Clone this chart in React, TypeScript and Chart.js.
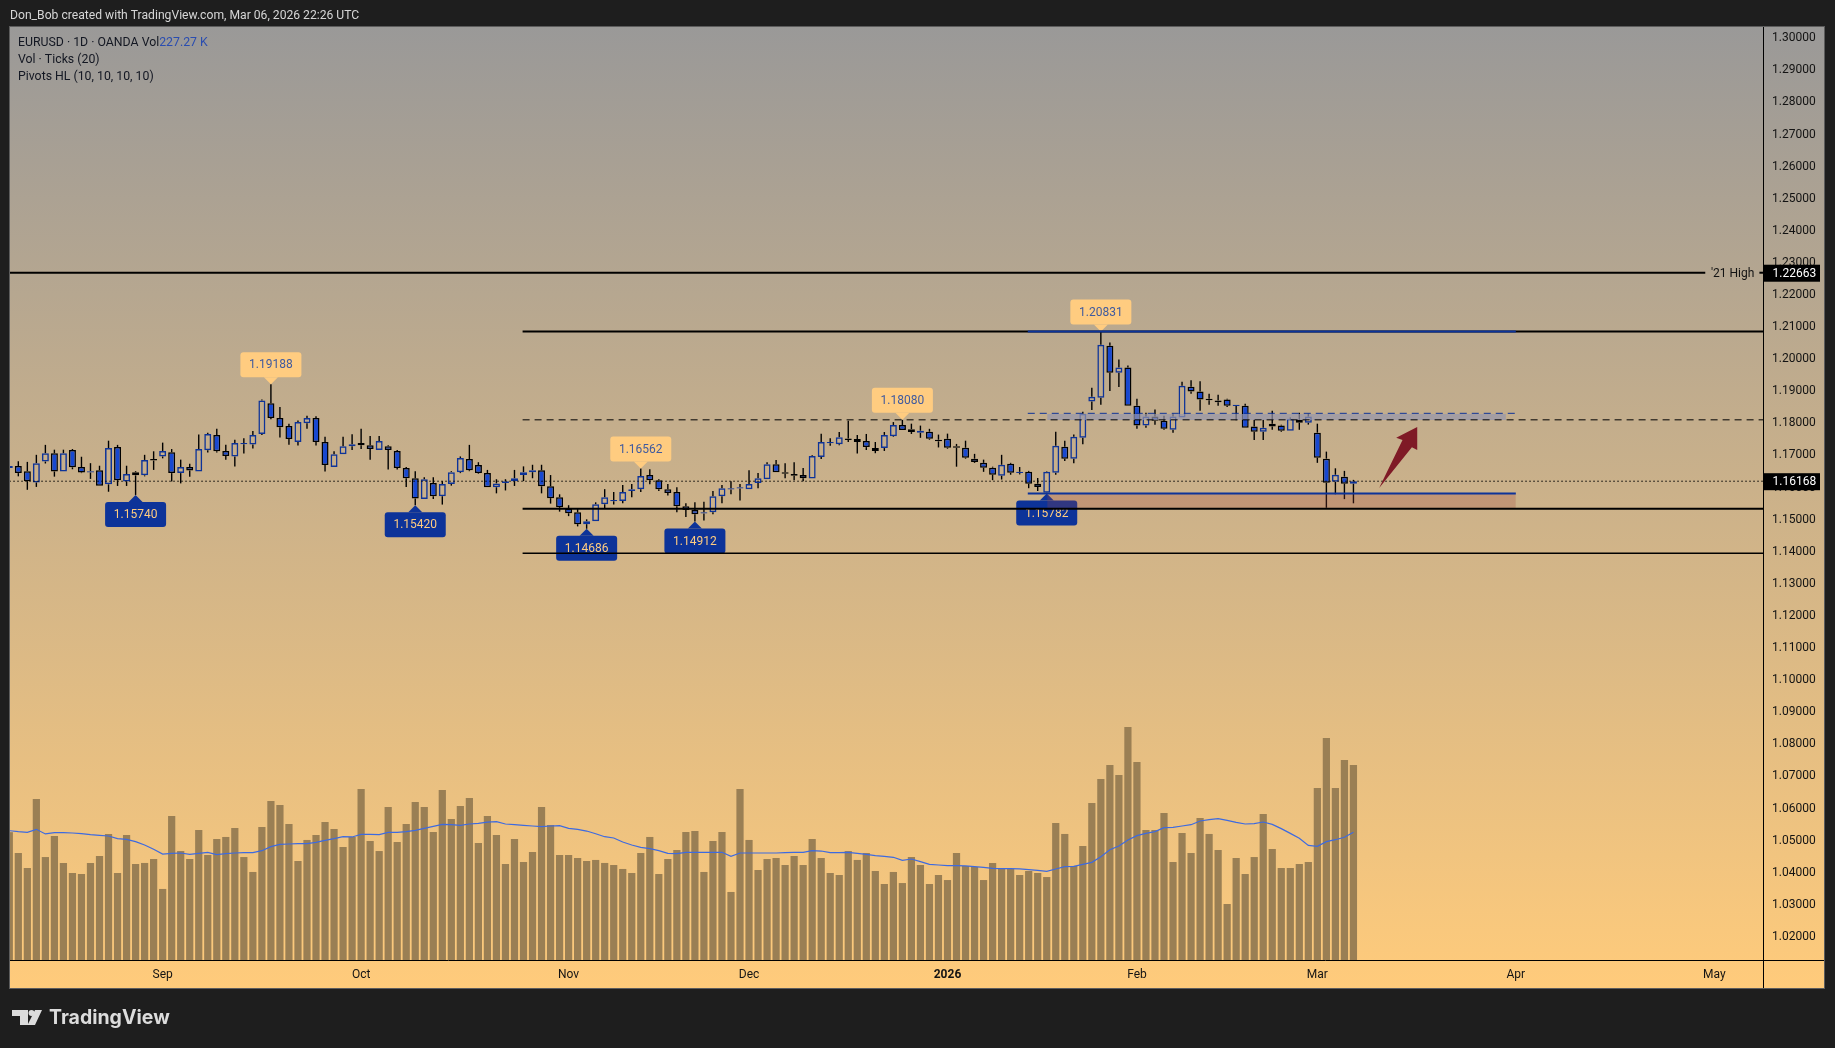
import { useEffect, useRef } from 'react'
import { Chart, registerables } from 'chart.js'

Chart.register(...registerables)

const FONT = 'Roboto, "Noto Sans", sans-serif'

const opens = [
  1.1658, 1.1664, 1.1648, 1.1613, 1.1678, 1.1704, 1.1647, 1.1714, 1.1661, 1.1644,
  1.1651, 1.1607, 1.1723, 1.1616, 1.1645, 1.1635, 1.1686, 1.1694, 1.1707, 1.1642,
  1.1661, 1.1647, 1.1713, 1.1761, 1.1711, 1.1694, 1.1732, 1.1731, 1.1764, 1.186,
  1.1814, 1.1789, 1.1739, 1.1797, 1.1814, 1.1739, 1.1661, 1.1701, 1.1726, 1.1736,
  1.1729, 1.1714, 1.1726, 1.1711, 1.1658, 1.1626, 1.1561, 1.1611, 1.157, 1.1608,
  1.1645, 1.1686, 1.1667, 1.1642, 1.1598, 1.1611, 1.1617, 1.1636, 1.1645, 1.1651,
  1.1601, 1.1567, 1.1532, 1.152, 1.1483, 1.1492, 1.1545, 1.1554, 1.1555, 1.1586,
  1.1592, 1.1636, 1.162, 1.1592, 1.1583, 1.1539, 1.1527, 1.1516, 1.152, 1.157,
  1.1591, 1.1594, 1.1592, 1.1611, 1.1623, 1.167, 1.1645, 1.1639, 1.1636, 1.1625,
  1.1692, 1.1735, 1.1732, 1.175, 1.1748, 1.1742, 1.172, 1.172, 1.1757, 1.1792,
  1.1779, 1.1768, 1.1771, 1.1746, 1.1749, 1.1726, 1.1721, 1.1687, 1.1674, 1.1659,
  1.1634, 1.1671, 1.1642, 1.1646, 1.1609, 1.1581, 1.1643, 1.1724, 1.1687, 1.1752,
  1.1865, 1.1877, 1.2039, 1.1955, 1.1971, 1.1852, 1.179, 1.1818, 1.1805, 1.1777,
  1.1815, 1.1911, 1.1896, 1.1874, 1.1868, 1.1871, 1.1851, 1.1852, 1.1787, 1.1771,
  1.1796, 1.179, 1.1774, 1.1808, 1.1799, 1.1768, 1.1687, 1.1615, 1.1631, 1.1609,
]
const closes = [
  1.1664, 1.1642, 1.1617, 1.1673, 1.1704, 1.1647, 1.1704, 1.166, 1.1644, 1.1648,
  1.1603, 1.172, 1.162, 1.1639, 1.1635, 1.1683, 1.1681, 1.1711, 1.1642, 1.1661,
  1.165, 1.1717, 1.1764, 1.171, 1.1695, 1.1736, 1.1736, 1.1761, 1.1868, 1.1814,
  1.1785, 1.1748, 1.1801, 1.1814, 1.1739, 1.1667, 1.1701, 1.1726, 1.1732, 1.1729,
  1.1717, 1.1742, 1.1714, 1.1658, 1.1626, 1.1563, 1.1623, 1.157, 1.1608, 1.1645,
  1.1689, 1.1651, 1.1642, 1.1598, 1.161, 1.1617, 1.1626, 1.1645, 1.1651, 1.1601,
  1.1564, 1.1536, 1.1517, 1.1483, 1.1492, 1.1545, 1.1567, 1.1558, 1.1583, 1.1592,
  1.1633, 1.162, 1.1592, 1.158, 1.1539, 1.1527, 1.1514, 1.152, 1.157, 1.1595,
  1.1595, 1.1598, 1.1608, 1.1626, 1.167, 1.1645, 1.164, 1.1634, 1.1626, 1.1695,
  1.1739, 1.1739, 1.1754, 1.1745, 1.1739, 1.1723, 1.1711, 1.1761, 1.1792, 1.1776,
  1.177, 1.1774, 1.1749, 1.1741, 1.1721, 1.1721, 1.169, 1.1677, 1.1659, 1.1637,
  1.1668, 1.1643, 1.1646, 1.1609, 1.1599, 1.1646, 1.1727, 1.1687, 1.1755, 1.1827,
  1.188, 1.2042, 1.1955, 1.1971, 1.1852, 1.179, 1.1818, 1.1805, 1.178, 1.1818,
  1.1914, 1.1896, 1.1871, 1.1869, 1.1863, 1.1852, 1.1855, 1.1783, 1.1771, 1.1783,
  1.1787, 1.1774, 1.1811, 1.1799, 1.1818, 1.169, 1.1612, 1.1637, 1.1609, 1.1617,
]
const highs = [
  1.1668, 1.1679, 1.1677, 1.1699, 1.173, 1.1715, 1.1715, 1.1717, 1.1693, 1.1673,
  1.1665, 1.1743, 1.173, 1.1665, 1.1648, 1.1699, 1.171, 1.1737, 1.1717, 1.1684,
  1.1671, 1.1762, 1.1768, 1.178, 1.173, 1.1746, 1.1751, 1.1773, 1.1871, 1.19188,
  1.1848, 1.1796, 1.1806, 1.1821, 1.1819, 1.1755, 1.171, 1.1755, 1.1763, 1.178,
  1.1758, 1.1758, 1.1729, 1.1714, 1.1661, 1.1648, 1.1629, 1.1629, 1.1617, 1.1648,
  1.1694, 1.173, 1.1676, 1.1652, 1.1623, 1.1623, 1.1652, 1.1663, 1.1668, 1.1668,
  1.1636, 1.1576, 1.1542, 1.153, 1.1498, 1.1551, 1.1592, 1.1583, 1.1605, 1.1608,
  1.16562, 1.1654, 1.1623, 1.1608, 1.1598, 1.1548, 1.1551, 1.1553, 1.1586, 1.1605,
  1.1617, 1.1608, 1.1651, 1.1642, 1.1676, 1.1683, 1.1673, 1.1676, 1.1658, 1.1698,
  1.1765, 1.1751, 1.177, 1.1805, 1.1761, 1.1764, 1.1739, 1.177, 1.1801, 1.1808,
  1.1796, 1.179, 1.178, 1.1762, 1.1765, 1.1733, 1.1743, 1.1702, 1.1684, 1.1662,
  1.1699, 1.1674, 1.1661, 1.1649, 1.1627, 1.1648, 1.1771, 1.1743, 1.1762, 1.1833,
  1.1908, 1.20831, 1.2049, 1.1996, 1.1977, 1.1874, 1.183, 1.184, 1.1821, 1.1827,
  1.1927, 1.1931, 1.1928, 1.1889, 1.1886, 1.1874, 1.1855, 1.1858, 1.1808, 1.1808,
  1.1836, 1.1793, 1.1815, 1.183, 1.1827, 1.1796, 1.1709, 1.1657, 1.1649, 1.1621,
]
const lows = [
  1.1652, 1.1632, 1.159, 1.1599, 1.1672, 1.1631, 1.1647, 1.1654, 1.1642, 1.1624,
  1.1603, 1.1584, 1.1602, 1.1602, 1.1574, 1.1632, 1.1652, 1.1688, 1.1616, 1.161,
  1.1631, 1.1647, 1.1706, 1.1706, 1.1684, 1.1663, 1.1703, 1.1719, 1.1761, 1.181,
  1.1753, 1.173, 1.1728, 1.178, 1.1728, 1.1647, 1.1661, 1.1701, 1.1714, 1.1717,
  1.1684, 1.1714, 1.1653, 1.1653, 1.1599, 1.1542, 1.1561, 1.1561, 1.1544, 1.1603,
  1.1642, 1.1648, 1.164, 1.1598, 1.1579, 1.1588, 1.1602, 1.1617, 1.1626, 1.1579,
  1.1547, 1.1522, 1.1508, 1.1476, 1.14686, 1.1492, 1.1533, 1.1544, 1.1548, 1.1567,
  1.1583, 1.1607, 1.1586, 1.1572, 1.152, 1.1505, 1.14912, 1.1494, 1.1514, 1.1548,
  1.1576, 1.1557, 1.1592, 1.1595, 1.1623, 1.1645, 1.1626, 1.162, 1.1617, 1.1625,
  1.1686, 1.1727, 1.1729, 1.1739, 1.1703, 1.1714, 1.1704, 1.1711, 1.1755, 1.1776,
  1.1764, 1.1752, 1.1746, 1.1722, 1.1718, 1.1662, 1.1687, 1.1674, 1.1646, 1.162,
  1.1622, 1.1637, 1.1638, 1.1595, 1.1586, 1.15782, 1.1637, 1.168, 1.1673, 1.1732,
  1.1839, 1.1855, 1.1898, 1.191, 1.1852, 1.178, 1.1783, 1.1793, 1.1777, 1.1768,
  1.1815, 1.1889, 1.1836, 1.1855, 1.1852, 1.1848, 1.1807, 1.1783, 1.1745, 1.1745,
  1.1777, 1.1771, 1.1774, 1.1777, 1.1793, 1.1674, 1.1534, 1.1576, 1.1561, 1.1548,
]

// volume in thousands of ticks
const volumes = [
  149, 124.7, 107.2, 187.6, 120, 144.5, 113.1, 101.4, 100.2, 113.1,
  121.2, 146.9, 101.4, 145.7, 111.9, 113.1, 117.7, 82.8, 167.8, 127,
  117.7, 151.5, 122.4, 141, 143.4, 153.8, 120, 102.6, 155, 185.3,
  180.7, 158.5, 115.4, 139.9, 145.7, 160.8, 152.7, 131.7, 143.4, 199.3,
  138.7, 127, 178.3, 137.5, 158.5, 184.1, 178.3, 149.2, 198.1, 164.3,
  179.5, 188.8, 136.4, 167.8, 145.7, 111.9, 141, 114.2, 125.9, 178.3,
  157.3, 122.4, 122.4, 118.9, 115.4, 116.6, 113.1, 110.7, 106.1, 101.4,
  124.7, 143.4, 100.2, 117.7, 128.2, 149.2, 150.3, 102.6, 138.7, 149.2,
  79.3, 199.3, 139.9, 104.9, 117.7, 118.9, 110.7, 121.2, 110.7, 141,
  118.9, 101.4, 99.1, 127, 116.6, 124.7, 103.7, 88.6, 102.6, 89.7,
  120, 110.7, 88.6, 99.1, 93.2, 124.7, 109.6, 108.4, 93.2, 113.1,
  107.2, 106.1, 99.1, 103.7, 101.4, 96.7, 159.7, 146.9, 109.6, 132.9,
  183, 211, 227.3, 215.6, 271.6, 230.8, 151.5, 151.5, 171.3, 114.2,
  148, 124.7, 165.5, 146.9, 128.2, 65.3, 118.9, 100.2, 120, 170.2,
  129.4, 107.2, 107.2, 111.9, 114.2, 200.5, 258.7, 200.5, 233.1, 227.27,
]
const volumeMa = [
  150.7, 149.6, 148.8, 152.3, 146.9, 148.4, 148.4, 148, 147.2, 146.1,
  145.3, 144.5, 141.4, 140.6, 137.9, 134, 129, 123.5, 124.3, 124.7,
  123.2, 124.3, 125.5, 122.8, 123.9, 124.7, 125.1, 125.1, 127.4, 132.1,
  134.8, 135.2, 135.6, 135.6, 137.1, 139.5, 141.4, 143.7, 143.4, 146.5,
  146.5, 146.1, 148.8, 148.8, 149.6, 151.1, 153.5, 155.8, 158.1, 157.7,
  157, 158.5, 159.3, 160.8, 161.2, 158.5, 157.7, 157, 156.2, 155.4,
  156.2, 156.6, 153.5, 152.3, 150.3, 147.2, 143.7, 142.2, 137.5, 134,
  131.3, 129.8, 127.4, 124.3, 123.9, 125.5, 125.5, 125.5, 125.5, 125.5,
  120.8, 124.7, 124.7, 124.7, 124.7, 124.7, 125.1, 125.5, 125.5, 127.4,
  127, 125.1, 125.1, 125.5, 124.3, 123.2, 121.6, 120.8, 119.7, 116.2,
  117.7, 114.6, 111.5, 110.7, 109.9, 109.9, 109.6, 108.8, 108, 106.8,
  106.5, 106.5, 106.1, 105.3, 104.5, 103.3, 106.1, 108.8, 109.2, 111.5,
  113.8, 120.4, 128.6, 132.9, 139.9, 144.9, 147.6, 149.6, 154.2, 154.6,
  156.2, 157.7, 162, 163.6, 164.7, 162.8, 160.4, 158.5, 158.9, 160.8,
  158.1, 153.1, 147.6, 141.8, 133.6, 132.5, 137.9, 140.2, 143, 148.8,
]

const monthTicks = [17, 39, 62, 82, 104, 125, 145, 167, 189]
const monthLabels = ['Sep', 'Oct', 'Nov', 'Dec', '2026', 'Feb', 'Mar', 'Apr', 'May']

const priceMin = 1.01252
const priceMax = 1.30318

const pivotHighIdx = [29, 70, 99, 121]
const pivotHighVals = [1.19188, 1.16562, 1.1808, 1.20831]
const pivotLowIdx = [14, 45, 64, 76, 115]
const pivotLowVals = [1.1574, 1.1542, 1.14686, 1.14912, 1.15782]

const lastPrice = 1.16168
const high21 = 1.22663
const levelTop = 1.20831
const levelMid = 1.1808
const levelSupport = 1.15311
const levelLow = 1.13922
const blueDash = 1.18283
const grayZoneBottom = 1.18075
const grayZoneTop = 1.18262
const redZoneTop = 1.15782

// arrow outline: index on the time axis, then price
const arrowIdx = [151.85, 154.44, 153.74, 156.07, 156.07, 155.48]
const arrowVals = [1.15956, 1.17452, 1.17523, 1.17857, 1.1714, 1.17224]

const BLUE = '#0d3399'
const idx = opens.map((_, i) => i)
const isUp = opens.map((o, i) => closes[i] >= o)

const hline = (label: string, y: number, x0: number, x1: number, color: string, width: number, order: number, dash: number[] = []) => ({
  type: 'line' as const,
  label,
  data: [{ x: x0, y }, { x: x1, y }],
  borderColor: color,
  borderWidth: width,
  borderDash: dash,
  pointRadius: 0,
  yAxisID: 'y',
  order,
})

const zone = (label: string, top: number, bottom: number, x0: number, x1: number, color: string, order: number) => ({
  type: 'line' as const,
  label,
  data: [{ x: x0, y: top }, { x: x1, y: top }],
  borderWidth: 0,
  borderColor: 'transparent',
  backgroundColor: color,
  fill: { value: bottom },
  pointRadius: 0,
  yAxisID: 'y',
  order,
})

const pivotBox = (ctx: CanvasRenderingContext2D, cx: number, tipY: number, text: string, high: boolean) => {
  const w = 61
  const h = 25
  const tri = 7
  const dir = high ? -1 : 1
  const boxNear = tipY + dir * tri
  const boxTop = high ? boxNear - h : boxNear
  ctx.fillStyle = high ? '#ffcc80' : BLUE
  ctx.beginPath()
  ctx.roundRect(cx - w / 2, boxTop, w, h, 3)
  ctx.fill()
  ctx.beginPath()
  ctx.moveTo(cx, tipY)
  ctx.lineTo(cx - tri, boxNear)
  ctx.lineTo(cx + tri, boxNear)
  ctx.closePath()
  ctx.fill()
  ctx.fillStyle = high ? '#3f5a9e' : '#ffcc80'
  ctx.font = `12px ${FONT}`
  ctx.textAlign = 'center'
  ctx.textBaseline = 'middle'
  ctx.fillText(text, cx, boxTop + h / 2 + 0.5)
}

const framePlugin = {
  id: 'frame',
  beforeDraw(chart: Chart) {
    const { ctx } = chart
    ctx.save()
    ctx.fillStyle = '#1e1e1e'
    ctx.fillRect(0, 0, 1835, 1048)
    const g = ctx.createLinearGradient(0, 27, 0, 988)
    g.addColorStop(0, '#9a9998')
    g.addColorStop(1, '#ffcb7b')
    ctx.fillStyle = g
    ctx.fillRect(10, 27, 1814, 961)
    ctx.strokeStyle = '#5c5c5c'
    ctx.lineWidth = 1
    ctx.strokeRect(9.5, 26.5, 1815, 962)
    ctx.restore()
  },
  // pivot flags sit above the candles but under the drawings
  afterDatasetDraw(chart: Chart, args: any) {
    if (chart.data.datasets[args.index].label !== 'Bodies') return
    const { ctx } = chart
    const x = chart.scales.x
    const y = chart.scales.y
    ctx.save()
    ctx.beginPath()
    ctx.rect(chart.chartArea.left, chart.chartArea.top, chart.chartArea.width, chart.chartArea.height)
    ctx.clip()
    pivotHighIdx.forEach((i, k) => pivotBox(ctx, x.getPixelForValue(i), y.getPixelForValue(pivotHighVals[k]), pivotHighVals[k].toFixed(5), true))
    pivotLowIdx.forEach((i, k) => pivotBox(ctx, x.getPixelForValue(i), y.getPixelForValue(pivotLowVals[k]), pivotLowVals[k].toFixed(5), false))
    ctx.restore()
  },
  afterDraw(chart: Chart) {
    const { ctx, chartArea } = chart
    const x = chart.scales.x
    const y = chart.scales.y
    ctx.save()

    // red arrow
    ctx.fillStyle = '#7f1a26'
    ctx.beginPath()
    arrowIdx.forEach((v, i) => {
      const px = x.getPixelForValue(v)
      const py = y.getPixelForValue(arrowVals[i])
      if (i === 0) ctx.moveTo(px, py)
      else ctx.lineTo(px, py)
    })
    ctx.closePath()
    ctx.fill()

    // axis lines run on through the corner of the scales
    ctx.strokeStyle = '#000'
    ctx.lineWidth = 1
    ctx.beginPath()
    ctx.moveTo(chartArea.right + 0.5, chartArea.bottom)
    ctx.lineTo(chartArea.right + 0.5, 988)
    ctx.moveTo(chartArea.right, chartArea.bottom + 0.5)
    ctx.lineTo(1824, chartArea.bottom + 0.5)
    ctx.stroke()

    // '21 High note
    const yHigh = y.getPixelForValue(high21)
    ctx.font = `12px ${FONT}`
    ctx.textBaseline = 'middle'
    ctx.textAlign = 'left'
    ctx.fillStyle = '#131313'
    ctx.fillText("'21 High", 1711, yHigh + 1)

    // price tags
    for (const v of [high21, lastPrice]) {
      const py = y.getPixelForValue(v)
      ctx.fillStyle = '#000'
      ctx.fillRect(chartArea.right, py - 8, 57, 17)
      ctx.fillStyle = '#fff'
      ctx.fillText(v.toFixed(5), 1772.5, py + 1)
    }

    // header text
    ctx.textBaseline = 'middle'
    ctx.fillStyle = '#d6d6d6'
    ctx.font = `12.15px ${FONT}`
    ctx.fillText('Don_Bob created with TradingView.com, Mar 06, 2026 22:26 UTC', 10, 16)

    ctx.fillStyle = '#131722'
    ctx.font = `12.3px ${FONT}`
    const first = 'EURUSD · 1D · OANDA Vol'
    ctx.fillText(first, 18, 42.5)
    const w = ctx.measureText(first).width
    ctx.fillStyle = '#2a4db0'
    ctx.fillText('227.27 K', 18 + w, 42.5)
    ctx.fillStyle = '#131722'
    ctx.fillText('Vol · Ticks (20)', 18, 60)
    ctx.fillText('Pivots HL (10, 10, 10, 10)', 18, 77)

    // TradingView mark
    ctx.fillStyle = '#dcdcdc'
    ctx.beginPath()
    ctx.moveTo(12, 1010)
    ctx.lineTo(28, 1010)
    ctx.lineTo(28, 1025)
    ctx.lineTo(20, 1025)
    ctx.lineTo(20, 1016)
    ctx.lineTo(12, 1016)
    ctx.closePath()
    ctx.fill()
    ctx.beginPath()
    ctx.arc(31.5, 1013, 3, 0, Math.PI * 2)
    ctx.fill()
    ctx.beginPath()
    ctx.moveTo(35, 1010)
    ctx.lineTo(42, 1010)
    ctx.lineTo(35, 1025)
    ctx.lineTo(27.5, 1025)
    ctx.closePath()
    ctx.fill()
    ctx.font = `bold 19.5px Inter, ${FONT}`
    ctx.fillText('TradingView', 49, 1018)

    ctx.restore()
  },
}

export default function App() {
  const chartRef = useRef<HTMLCanvasElement>(null)

  useEffect(() => {
    if (!chartRef.current) return
    const chart = new Chart(chartRef.current, {
      type: 'bar',
      data: {
        datasets: [
          {
            label: 'Volume',
            data: idx.map((i) => ({ x: i, y: volumes[i] })),
            backgroundColor: '#9a7f54',
            yAxisID: 'vol',
            barPercentage: 1,
            maxBarThickness: 8,
            order: 30,
          },
          {
            type: 'line',
            label: 'Volume MA',
            data: idx.map((i) => ({ x: i, y: volumeMa[i] })),
            borderColor: '#3d6ae0',
            borderWidth: 1.2,
            pointRadius: 0,
            tension: 0,
            yAxisID: 'vol',
            order: 29,
          },
          {
            label: 'Upper wicks',
            data: idx.map((i) => ({ x: i, y: [Math.max(opens[i], closes[i]), highs[i]] })),
            backgroundColor: '#000',
            yAxisID: 'y',
            barPercentage: 1,
            maxBarThickness: 1.4,
            order: 22,
          },
          {
            label: 'Lower wicks',
            data: idx.map((i) => ({ x: i, y: [lows[i], Math.min(opens[i], closes[i])] })),
            backgroundColor: '#000',
            yAxisID: 'y',
            barPercentage: 1,
            maxBarThickness: 1.4,
            order: 21,
          },
          {
            label: 'Bodies',
            data: idx.map((i) => ({ x: i, y: [opens[i], closes[i]] })),
            backgroundColor: isUp.map((u) => (u ? 'transparent' : '#1848d0')),
            borderColor: isUp.map((u) => (u ? BLUE : '#000')),
            borderWidth: 1.5,
            borderSkipped: false,
            yAxisID: 'y',
            barPercentage: 1,
            maxBarThickness: 7,
            order: 20,
          },
          zone('Red zone', redZoneTop, levelSupport, 115.05, 167, 'rgba(160,68,58,0.25)', 12),
          zone('Gray zone', grayZoneTop, grayZoneBottom, 115.05, 165.9, 'rgba(150,150,172,0.7)', 11),
          hline('Last price', lastPrice, 0, 195, '#000', 1, 10, [1.5, 2.5]),
          hline('21 High left', high21, 0, 188, '#000', 2, 9),
          hline('21 High right', high21, 194, 195, '#000', 2, 9),
          hline('Top level', levelTop, 56.9, 195, '#000', 2, 8),
          hline('Top level blue', levelTop, 112.9, 167, BLUE, 2, 7),
          hline('Mid level', levelMid, 56.9, 195, '#000', 1, 8, [7, 5]),
          hline('Blue dash', blueDash, 112.9, 167, BLUE, 1, 7, [7, 5]),
          hline('Support', levelSupport, 56.9, 195, '#000', 2, 8),
          hline('Lower level', levelLow, 56.9, 195, '#000', 1.5, 8),
          hline('Zone top', redZoneTop, 112.9, 167, BLUE, 2, 7),
        ] as any,
      },
      options: {
        responsive: false,
        animation: false,
        devicePixelRatio: 1,
        parsing: { xAxisKey: 'x', yAxisKey: 'y' },
        layout: { padding: { left: 10, top: 27, right: 11, bottom: 60 } },
        plugins: { legend: { display: false }, tooltip: { enabled: false } },
        datasets: { bar: { grouped: false } },
        scales: {
          x: {
            type: 'linear',
            offset: false,
            min: 0.078,
            max: 194.4,
            grid: { display: false, drawTicks: false },
            border: { display: true, color: '#000', width: 1 },
            afterBuildTicks: (scale: any) => {
              scale.ticks = monthTicks.map((value) => ({ value }))
            },
            afterFit: (scale: any) => {
              scale.height = 28
            },
            ticks: {
              autoSkip: false,
              maxRotation: 0,
              padding: 8,
              color: '#131313',
              font: (c: any) => ({
                family: FONT,
                size: 12,
                weight: c.tick && c.tick.value === 104 ? 'bold' : 'normal',
              }),
              callback: (v: any) => monthLabels[monthTicks.indexOf(v)],
            },
          },
          y: {
            type: 'linear',
            position: 'right',
            min: priceMin,
            max: priceMax,
            grid: { display: false, drawTicks: false },
            border: { display: true, color: '#000', width: 1 },
            afterFit: (scale: any) => {
              scale.width = 61
            },
            ticks: {
              stepSize: 0.01,
              includeBounds: false,
              autoSkip: false,
              padding: 9,
              color: '#131313',
              // empty first line with a 2px line height nudges the label down 1px
              font: { family: FONT, size: 12, lineHeight: '2px' },
              callback: (v: any) => ['', Number(v).toFixed(5)],
            },
          },
          vol: {
            type: 'linear',
            display: false,
            min: 0,
            max: 1087.4,
          },
        },
      } as any,
      plugins: [framePlugin as any],
    })
    return () => chart.destroy()
  }, [])

  return (
    <div style={{ position: 'fixed', left: 0, top: 0, width: 1835, height: 1048, background: '#1e1e1e' }}>
      <canvas ref={chartRef} width={1835} height={1048} style={{ display: 'block' }} />
    </div>
  )
}
